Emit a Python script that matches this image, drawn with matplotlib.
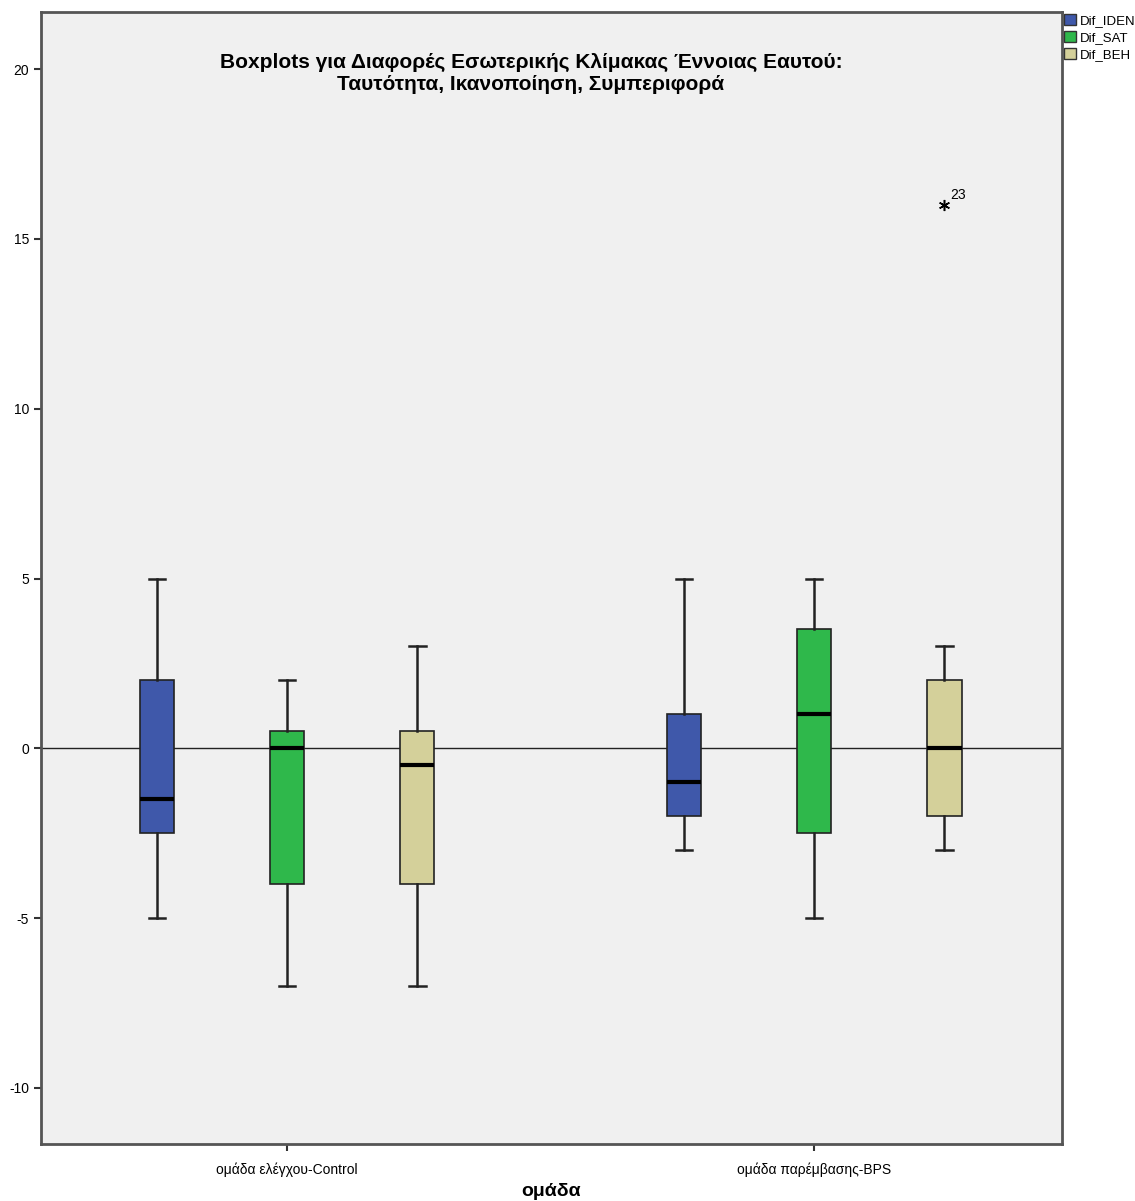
import matplotlib.pyplot as plt
from matplotlib.patches import Patch

plt.rcParams['font.family'] = ['Liberation Sans', 'DejaVu Sans']

# Ομάδες και μεταβλητές
groups = ['ομάδα ελέγχου-Control', 'ομάδα παρέμβασης-BPS']
variables = ['Dif_IDEN', 'Dif_SAT', 'Dif_BEH']
colors = ['#3F58AA', '#2FB84B', '#D4D09A']

# Στατιστικά boxplot: [κάτω άκρο, Q1, διάμεσος, Q3, άνω άκρο] ανά ομάδα
iden = [[-5, -2.5, -1.5, 2, 5], [-3, -2, -1, 1, 5]]
sat = [[-7, -4, 0, 0.5, 2], [-5, -2.5, 1, 3.5, 5]]
beh = [[-7, -4, -0.5, 0.5, 3], [-3, -2, 0, 2, 3]]
# Ακραίες τιμές (ομάδα, μεταβλητή, τιμή, αριθμός περίπτωσης)
extremes = [(1, 2, 16, '23')]

series = [iden, sat, beh]

fig = plt.figure(figsize=(11.35, 12.01), dpi=100)
ax = fig.add_axes([41 / 1135, 57 / 1201, 1021 / 1135, 1132 / 1201])
ax.set_facecolor('#F0F0F0')

offsets = [-0.247, 0, 0.247]
width = 0.065
for gi in range(len(groups)):
    for vi, var in enumerate(variables):
        lo, q1, med, q3, hi = series[vi][gi]
        fl = [e[2] for e in extremes if e[0] == gi and e[1] == vi]
        st = dict(whislo=lo, q1=q1, med=med, q3=q3, whishi=hi, fliers=fl)
        ax.bxp([st], positions=[gi + 1 + offsets[vi]], widths=width,
               capwidths=0.031, patch_artist=True, showfliers=True,
               boxprops=dict(facecolor=colors[vi], edgecolor='#222222', linewidth=1.2),
               medianprops=dict(color='black', linewidth=3),
               whiskerprops=dict(color='#222222', linewidth=1.8),
               capprops=dict(color='#222222', linewidth=1.8),
               flierprops=dict(marker=(6, 2, 0), markersize=8, markeredgewidth=1.1,
                               markerfacecolor='black', markeredgecolor='black'))

for gi, vi, val, case in extremes:
    ax.annotate(case, (gi + 1 + offsets[vi], val), xytext=(4, 4),
                textcoords='offset points', fontsize=10)

ax.axhline(0, color='#222222', linewidth=1, zorder=0.5)

ax.set_xlim(0.533, 2.47)
ax.set_ylim(-11.65, 21.68)
ax.set_yticks([-10, -5, 0, 5, 10, 15, 20])
ax.set_yticklabels(['-10', '-5', '0', '5', '10', '15', '20'], fontsize=10)
ax.set_xticks([1, 2])
ax.set_xticklabels(groups, fontsize=10)
ax.tick_params(axis='both', direction='out', length=5, width=1.5, color='#333333')
ax.tick_params(axis='x', pad=8)
for sp in ax.spines.values():
    sp.set_color('#555555')
    sp.set_linewidth(2)

fig.text(531 / 1135, 1 - 62 / 1201,
         'Boxplots για Διαφορές Εσωτερικής Κλίμακας Έννοιας Εαυτού:',
         ha='center', va='center', fontsize=15, fontweight='bold')
fig.text(531 / 1135, 1 - 84 / 1201,
         'Ταυτότητα, Ικανοποίηση, Συμπεριφορά',
         ha='center', va='center', fontsize=15, fontweight='bold')
fig.text(551 / 1135, 1 - 1192 / 1201, 'ομάδα', ha='center', va='center',
         fontsize=14, fontweight='bold')

handles = [Patch(facecolor=c, edgecolor='#333333', linewidth=1) for c in colors]
fig.legend(handles, variables, loc='upper left',
           bbox_to_anchor=(1063 / 1135, 1 - 13 / 1201), frameon=False,
           fontsize=9.5, handlelength=0.9, handleheight=0.9,
           handletextpad=0.25, labelspacing=0.3, borderaxespad=0, borderpad=0.1)

plt.savefig('out.png', dpi=100)
